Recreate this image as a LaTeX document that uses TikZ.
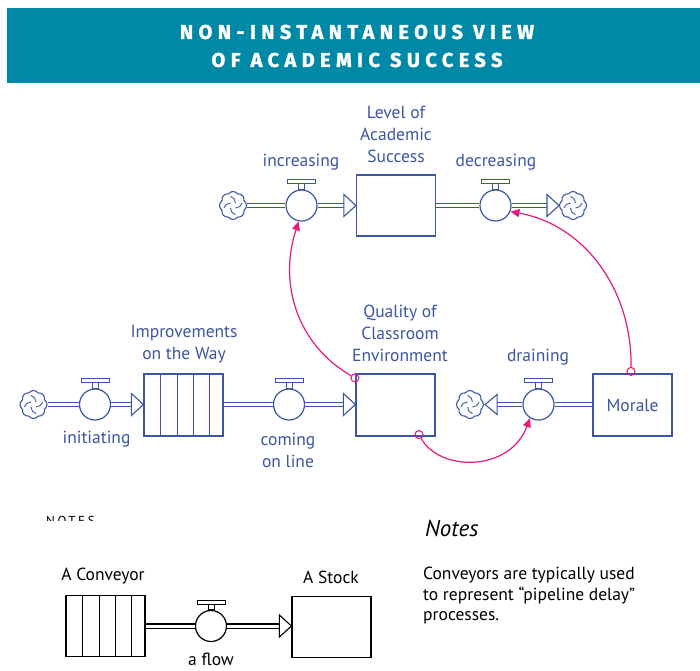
\documentclass[tikz,border=0pt]{standalone}
\usepackage{fontspec}
\setmainfont{PT Sans}
\newfontfamily\titlefont[LetterSpace=27,FakeBold=1.6]{Fira Sans}
\newfontfamily\capsfont[LetterSpace=20]{PT Sans}
\usetikzlibrary{shapes.symbols,arrows.meta,calc}
\definecolor{band}{HTML}{0089A6}
\definecolor{ink}{HTML}{3B55A6}
\definecolor{linkpink}{HTML}{E6197D}

\tikzset{
  stock/.style={rectangle, draw, line width=1.2pt, minimum width=79pt,
    minimum height=61pt, inner sep=0pt, fill=white},
  valve/.style={circle, draw, line width=1.2pt, minimum size=31pt,
    inner sep=0pt, fill=white},
  source/.style={cloud, cloud puffs=8, cloud puff arc=110, aspect=1, draw,
    line width=1.1pt, minimum width=27pt, minimum height=28pt, inner sep=0pt},
  pipe/.style={line width=1.1pt, double=white, double distance=3pt},
  tiptri/.style={line width=1.1pt, fill=white, line join=miter},
  lbl/.style={text=ink, font=\fontsize{17.5}{22}\selectfont, align=center},
  blk/.style={text=black, font=\fontsize{17.5}{20.5}\selectfont, align=center},
  link/.style={draw=linkpink, line width=1.2pt,
    -{Triangle[length=9pt,width=8pt]}},
  tap/.style={circle, draw=linkpink, line width=1.1pt, minimum size=8pt,
    inner sep=0pt}
}

% T-shaped handle on top of a valve
\newcommand\handle[1]{%
  \draw[line width=1pt] ($(#1.north)+(-14,5.5)$) rectangle ($(#1.north)+(14,9.5)$);
  \draw[line width=1pt] ($(#1.north)+(-3,0)$) rectangle ($(#1.north)+(3,5.5)$);}
% pinwheel strokes inside a cloud
\newcommand\swirl[1]{%
  \foreach \a in {45,135,225,315}{%
    \draw[line width=0.9pt] ($(#1.center)+({\a}:3.5)$) to[bend right=35]
      ($(#1.center)+({\a+60}:9.5)$);}}
% compartments of a conveyor
\newcommand\slats[1]{%
  \foreach \dx in {17,34,50,66}{%
    \draw[line width=1.2pt] ($(#1.north west)+(\dx,0)$) -- ($(#1.south west)+(\dx,0)$);}}
% open arrowhead pointing right onto the west side of a node
\newcommand\tipright[1]{%
  \draw[tiptri] ($(#1.west)+(-12,11)$) -- (#1.west) -- ($(#1.west)+(-12,-11)$) -- cycle;}

\begin{document}
\begin{tikzpicture}[x=1pt,y=1pt]
\useasboundingbox (0,0) rectangle (700,-670);

% title band
\fill[band] (7,-8) rectangle (700,-83);
\node[text=white, font=\titlefont\bfseries\fontsize{20}{28}\selectfont,
  align=center] (title) at (357,-46) {NON-INSTANTANEOUS VIEW\\OF ACADEMIC SUCCESS};

\begin{scope}[draw=ink, color=ink]
% ---- top chain: Level of Academic Success
\node[source] (s1) at (233,-205.5) {};
\node[valve] (inc) at (301.5,-205.5) {};
\node[stock] (las) at (396,-205.5) {};
\node[valve] (dec) at (495.5,-205.5) {};
\node[source] (s2) at (573,-205.5) {};
\swirl{s1}\swirl{s2}
\handle{inc}\handle{dec}
\draw[pipe] (s1) -- (inc);
\draw[pipe] (inc) -- ($(las.west)+(-12,0)$);
\tipright{las}
\draw[pipe] (las.east) -- (dec);
\draw[pipe] (dec) -- ($(s2.west)+(-12,0)$);
\draw[tiptri] ($(s2.west)+(-12,11)$) -- (s2.west) -- ($(s2.west)+(-12,-11)$) -- cycle;

\node[lbl] (lasl) at (396,-134) {Level of\\Academic\\Success};
\node[lbl] (incl) at (301,-162) {increasing};
\node[lbl] (decl) at (496,-162) {decreasing};

% ---- middle chain: Improvements on the Way -> Quality of Classroom Environment
\node[source] (s3) at (33.5,-404.5) {};
\node[valve] (ini) at (95,-404.5) {};
\node[stock, minimum height=62pt] (imp) at (183.5,-405) {};
\node[valve] (col) at (289,-404.5) {};
\node[stock, minimum height=62pt] (qce) at (395.5,-405) {};
\node[source] (s4) at (470,-404.5) {};
\node[valve] (drn) at (538.5,-404.5) {};
\node[stock, minimum height=62pt] (mor) at (632.5,-405) {};
\swirl{s3}\swirl{s4}
\slats{imp}
\handle{ini}\handle{col}\handle{drn}
\draw[pipe] (s3) -- (ini);
\draw[pipe] (ini) -- ($(ini.east -| imp.west)+(-12,0)$);
\draw[tiptri] ($(ini.east -| imp.west)+(-12,11)$) -- (ini.east -| imp.west)
  -- ($(ini.east -| imp.west)+(-12,-11)$) -- cycle;
\draw[pipe] (imp.east |- col.west) -- (col);
\draw[pipe] (col) -- ($(col.east -| qce.west)+(-12,0)$);
\draw[tiptri] ($(col.east -| qce.west)+(-12,11)$) -- (col.east -| qce.west)
  -- ($(col.east -| qce.west)+(-12,-11)$) -- cycle;
\draw[pipe] (mor.west |- drn.east) -- (drn);
\draw[pipe] (drn) -- ($(s4.east)+(13,0)$);
\draw[tiptri] ($(s4.east)+(13,10)$) -- ($(s4.east)+(1,0)$) -- ($(s4.east)+(13,-10)$) -- cycle;

\node[lbl] (impl) at (184,-344) {Improvements\\on the Way};
\node[lbl] (qcel) at (400,-333) {Quality of\\Classroom\\Environment};
\node[lbl] (inil) at (96.5,-439) {initiating};
\node[lbl] (coll) at (288,-450) {coming\\on line};
\node[lbl] (drnl) at (538,-357) {draining};
\node[lbl] at (mor.center) {Morale};
\end{scope}

% ---- information links
\node[tap] (t1) at ($(qce.north west)+(-0.5,-4.5)$) {};
\node[tap] (t2) at ($(mor.north)+(-1.5,2)$) {};
\node[tap] (t3) at ($(qce.south)+(23.5,2)$) {};
\draw[link] (t1) .. controls (298,-345) and (278,-285) .. (inc.-100);
\draw[link] (t2) .. controls (632,-290) and (585,-225) .. (dec.-22);
\draw[link] (t3) .. controls (440,-472) and (510,-472) .. (drn.-122);

% ---- clipped heading of the notes panel
\begin{scope}
\clip (40,-508) rectangle (120,-520);
\node[anchor=base west, inner sep=0pt, font=\capsfont\fontsize{13}{13}\selectfont]
  (noteshead) at (46,-525) {NOTES};
\end{scope}

% ---- legend: conveyor, flow, stock
\node[stock] (lc) at (105.5,-626) {};
\node[valve] (lf) at (211,-626) {};
\node[stock] (ls) at (331.5,-627) {};
\slats{lc}
\handle{lf}
\draw[pipe] (lc.east |- lf.west) -- (lf);
\draw[pipe] (lf) -- ($(lf.east -| ls.west)+(-12,0)$);
\draw[tiptri] ($(lf.east -| ls.west)+(-12,11)$) -- (lf.east -| ls.west)
  -- ($(lf.east -| ls.west)+(-12,-11)$) -- cycle;
\node[blk] (lcl) at (103,-576) {A Conveyor};
\node[blk] (lsl) at (331,-577) {A Stock};
\node[blk, inner sep=0pt] (lfl) at (211,-659) {a flow};

\node[anchor=west, inner sep=0pt, font=\itshape\fontsize{23}{23}\selectfont]
  (notes) at (425,-528) {Notes};
\node[anchor=north west, inner sep=0pt, align=left,
  font=\fontsize{17.5}{20.5}\selectfont] (notetext) at (423,-567)
  {Conveyors are typically used\\to represent “pipeline delay”\\processes.};
\end{tikzpicture}
\end{document}
